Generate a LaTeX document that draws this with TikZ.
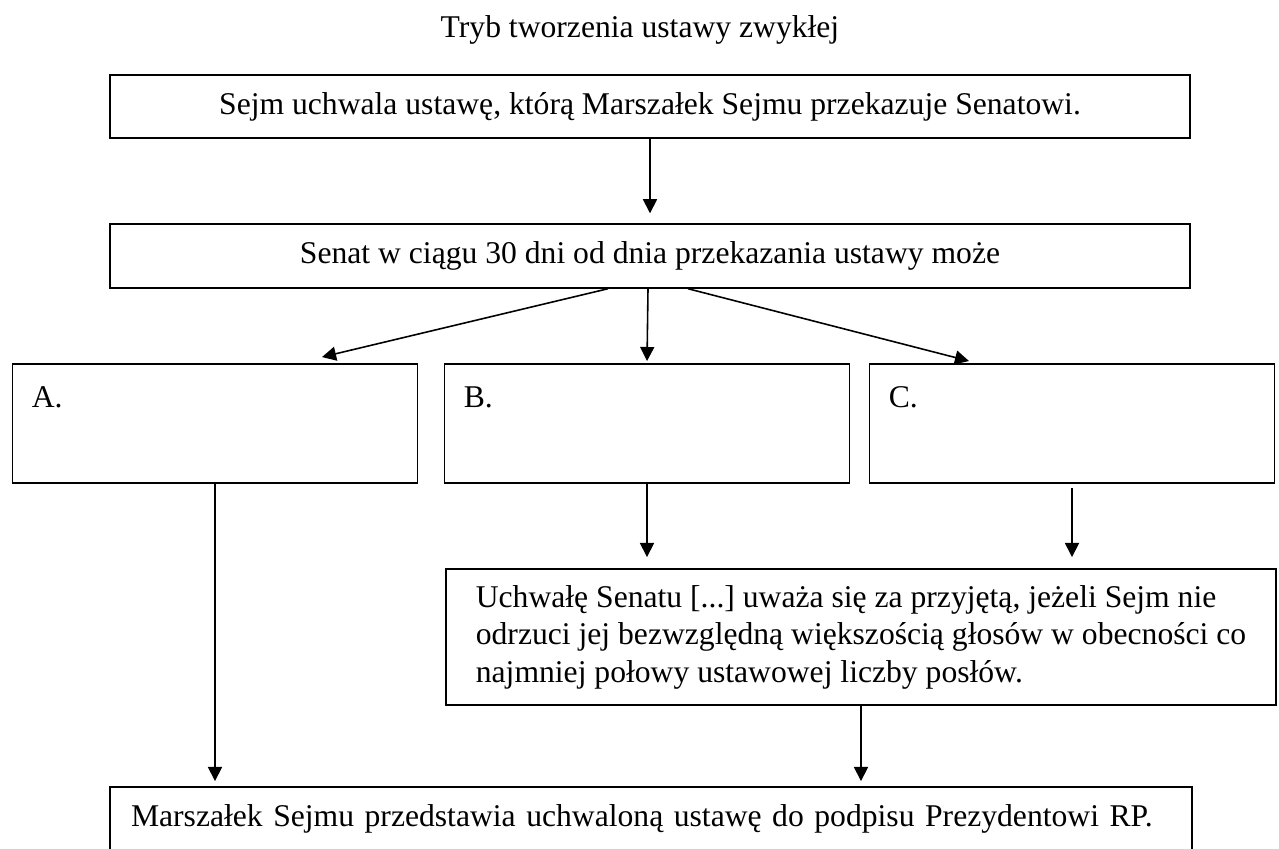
\documentclass[tikz,border=0pt]{standalone}
\usepackage{fontspec}
\setmainfont{Liberation Serif}
\frenchspacing
\usetikzlibrary{arrows.meta, positioning}
\tikzstyle{box} = [rectangle, draw=black, line width=1.1pt]
\tikzstyle{arrow} = [line width=0.9pt, -{Stealth[inset=0pt, length=8pt, width=8pt]}]

\begin{document}
\begin{tikzpicture}[font=\fontsize{18}{21.3}\selectfont]
    \tikzset{wide/.style = {box, minimum width=21.6cm, minimum height=1.27cm},
    choice/.style = {box, minimum width=8.1cm, minimum height=2.38cm},
    letter/.style = {inner sep=0pt, anchor=north west}}
\clip (0,0) rectangle (25.58,-16.96);

\node (title) at (12.8,-0.6) {Tryb tworzenia ustawy zwykłej};
\node (sejm) [wide] at (13.0,-2.13) {Sejm uchwala ustawę, którą Marszałek Sejmu przekazuje Senatowi.};
\node (senat) [wide] at (13.0,-5.12) {Senat w ciągu 30 dni od dnia przekazania ustawy może};
\draw [arrow, shorten >=0.2cm] (sejm) -- (senat);

% trzy mozliwosci Senatu
\node (optA) [choice] at (4.3,-8.47) {};
\node (optB) [choice] at (12.94,-8.47) {};
\node (optC) [choice] at (21.44,-8.47) {};
\node (labA) [letter, below right=0.46cm and 0.4cm of optA.north west] {A.};
\node (labB) [letter, below right=0.46cm and 0.4cm of optB.north west] {B.};
\node (labC) [letter, below right=0.46cm and 0.4cm of optC.north west] {C.};
\draw [arrow] ([xshift=-0.84cm]senat.south) -- ([xshift=2.14cm, yshift=0.12cm]optA.north);
\draw [arrow, shorten >=0.04cm] ([xshift=-0.04cm]senat.south) -- (optB.north);
\draw [arrow] ([xshift=0.76cm]senat.south) -- ([xshift=-2.06cm, yshift=0.04cm]optC.north);

\node (uchwala) [box, minimum width=16.6cm, minimum height=2.72cm, align=left] at (17.22,-12.74)
    {Uchwałę Senatu [...] uważa się za przyjętą, jeżeli Sejm nie\\
    odrzuci jej bezwzględną większością głosów w obecności co\\
    najmniej połowy ustawowej liczby posłów.};
\node (marszalek) [box, text width=20.8cm, inner xsep=0.42cm, minimum height=1.27cm, align=left] at (13.02,-16.375)
    {Marszałek Sejmu przedstawia uchwaloną ustawę do podpisu Prezydentowi RP.};

\draw [arrow, shorten >=0.1cm] (optA.south) -- (optA.south |- marszalek.north);
\draw [arrow, shorten >=0.22cm] (optB.south) -- (optB.south |- uchwala.north);
\draw [arrow, shorten >=0.22cm] ([yshift=-0.08cm]optC.south) -- (optC.south |- uchwala.north);
\draw [arrow, shorten >=0.1cm] (uchwala.south) -- (uchwala.south |- marszalek.north);

\end{tikzpicture}
\end{document}
